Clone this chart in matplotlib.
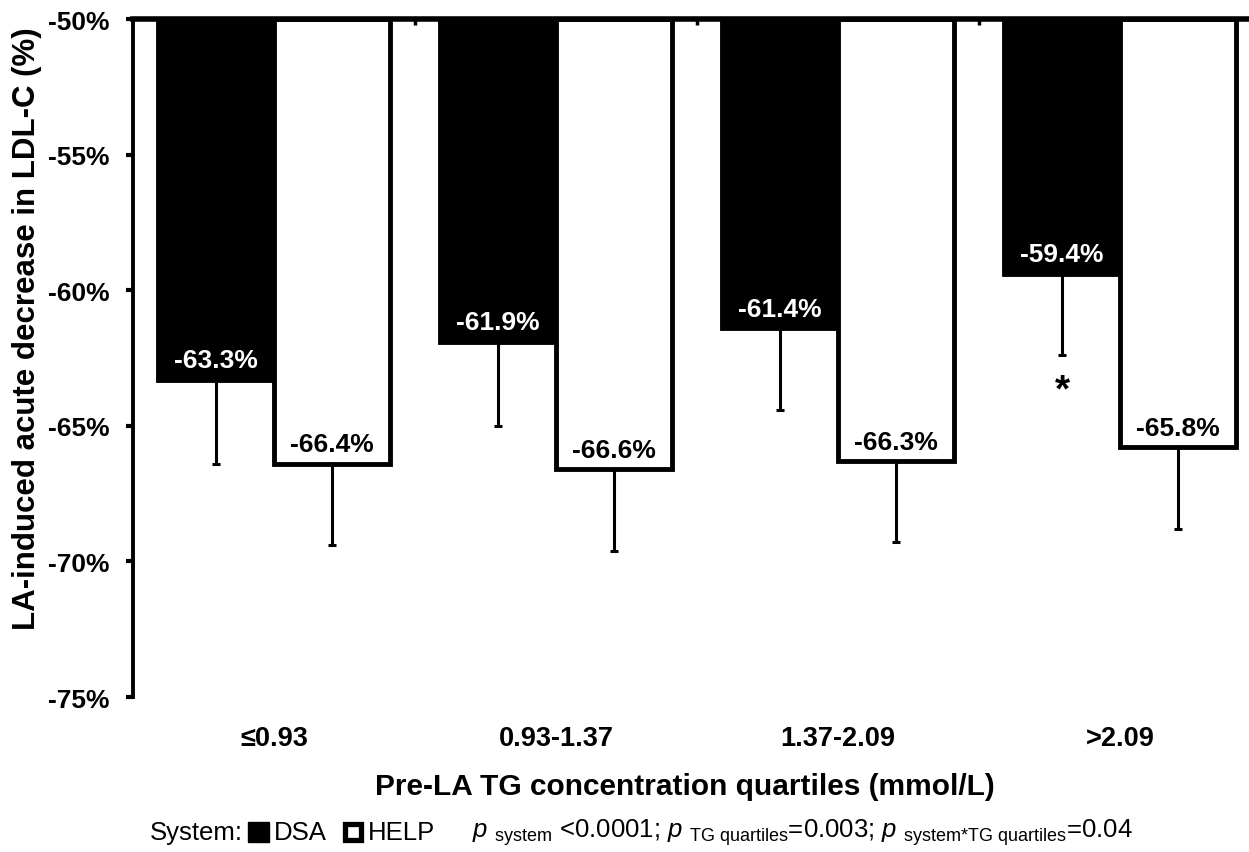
import matplotlib
matplotlib.use("Agg")
import matplotlib.pyplot as plt
import numpy as np
from matplotlib.offsetbox import HPacker, TextArea, DrawingArea, AnchoredOffsetbox
from matplotlib.patches import Rectangle

plt.rcParams["font.family"] = ["Liberation Sans", "DejaVu Sans"]
plt.rcParams["mathtext.fontset"] = "custom"
plt.rcParams["mathtext.rm"] = "Liberation Sans"
plt.rcParams["mathtext.it"] = "Liberation Sans:italic"

categories = ["≤0.93", "0.93-1.37", "1.37-2.09", ">2.09"]
dsa_values = [-63.3, -61.9, -61.4, -59.4]
help_values = [-66.4, -66.6, -66.3, -65.8]
dsa_err = [3.1, 3.1, 3.0, 3.0]
help_err = [3.0, 3.0, 3.0, 3.0]
y_ticks = [-50, -55, -60, -65, -70, -75]

base = -50
bar_w = 0.41
x = np.arange(len(categories)) + 0.5

fig = plt.figure(figsize=(12.49, 8.53), dpi=100)
ax = fig.add_axes([133 / 1249, 155 / 853, 1128 / 1249, 678 / 853])

dsa_h = np.array(dsa_values) - base
help_h = np.array(help_values) - base

ax.bar(x - bar_w / 2, dsa_h, bar_w, bottom=base, color="black",
       edgecolor="black", linewidth=3.5, zorder=2)
ax.bar(x + bar_w / 2, help_h, bar_w, bottom=base, color="white",
       edgecolor="black", linewidth=3.5, zorder=2)

# errors only drawn downward
ax.errorbar(x - bar_w / 2, dsa_values, yerr=[dsa_err, [0] * 4], fmt="none",
            ecolor="black", elinewidth=2.2, capsize=3, capthick=2.2, zorder=3)
ax.errorbar(x + bar_w / 2, help_values, yerr=[help_err, [0] * 4], fmt="none",
            ecolor="black", elinewidth=2.2, capsize=3, capthick=2.2, zorder=3)

for xi, v in zip(x - bar_w / 2, dsa_values):
    ax.annotate("{:.1f}%".format(v), (xi, v), xytext=(0, 9), textcoords="offset points",
                ha="center", va="baseline", color="white", fontsize=19, fontweight="bold", zorder=4)
for xi, v in zip(x + bar_w / 2, help_values):
    ax.annotate("{:.1f}%".format(v), (xi, v), xytext=(0, 9), textcoords="offset points",
                ha="center", va="baseline", color="black", fontsize=19, fontweight="bold", zorder=4)

ax.text(x[3] - bar_w / 2, -63.7, "*", ha="center", va="center", fontsize=28, fontweight="bold")

ax.set_xlim(0, 4)
ax.set_ylim(-75, -50)
ax.set_yticks(y_ticks)
ax.set_yticklabels(["{}%".format(t) for t in y_ticks], fontsize=19, fontweight="bold")
ax.tick_params(axis="y", direction="out", length=5, width=3, pad=12)

ax.set_xticks(x)
ax.set_xticklabels(categories, fontsize=19.5, fontweight="bold")
ax.tick_params(axis="x", which="major", length=0, pad=20)
ax.set_xticks([1, 2, 3], minor=True)
ax.tick_params(axis="x", which="minor", top=True, bottom=False, direction="in", length=4, width=2.5)

ax.spines["right"].set_visible(False)
ax.spines["bottom"].set_visible(False)
ax.spines["top"].set_linewidth(4)
ax.spines["left"].set_linewidth(2.8)
ax.spines["top"].set_zorder(5)

ax.set_ylabel("LA-induced acute decrease in LDL-C (%)", fontsize=22.5, fontweight="bold")
ax.yaxis.set_label_coords(-0.081, 0.545)
ax.set_xlabel("Pre-LA TG concentration quartiles (mmol/L)", fontsize=21.5, fontweight="bold")
ax.xaxis.set_label_coords((685 - 133) / 1128, -0.11)

# bottom line: system key and p values
fs = 18.5


def key_box(filled):
    da = DrawingArea(16, 16, 0, 0)
    if filled:
        da.add_artist(Rectangle((0.5, 0.5), 15, 15, facecolor="black", edgecolor="black", linewidth=1))
    else:
        da.add_artist(Rectangle((2, 2), 12, 12, facecolor="white", edgecolor="black", linewidth=3.8))
    return da


p_text = (r"$p$ ${}_{\rm system}$ <0.0001; $p$ ${}_{\rm TG\ quartiles}$=0.003; "
          r"$p$ ${}_{\rm system{*}TG\ quartiles}$=0.04")
items = [
    TextArea("System:", textprops=dict(fontsize=fs)),
    key_box(True),
    TextArea("DSA", textprops=dict(fontsize=fs)),
    TextArea(" ", textprops=dict(fontsize=fs)),
    key_box(False),
    TextArea("HELP", textprops=dict(fontsize=fs)),
    TextArea("    ", textprops=dict(fontsize=fs)),
    TextArea(p_text, textprops=dict(fontsize=fs)),
]
row = HPacker(children=items, align="center", pad=0, sep=3)
anch = AnchoredOffsetbox(loc="center left", child=row, pad=0, borderpad=0, frameon=False,
                         bbox_to_anchor=(150 / 1249, 1 - 833 / 853),
                         bbox_transform=fig.transFigure)
fig.add_artist(anch)

fig.savefig("out.png", dpi=100)
